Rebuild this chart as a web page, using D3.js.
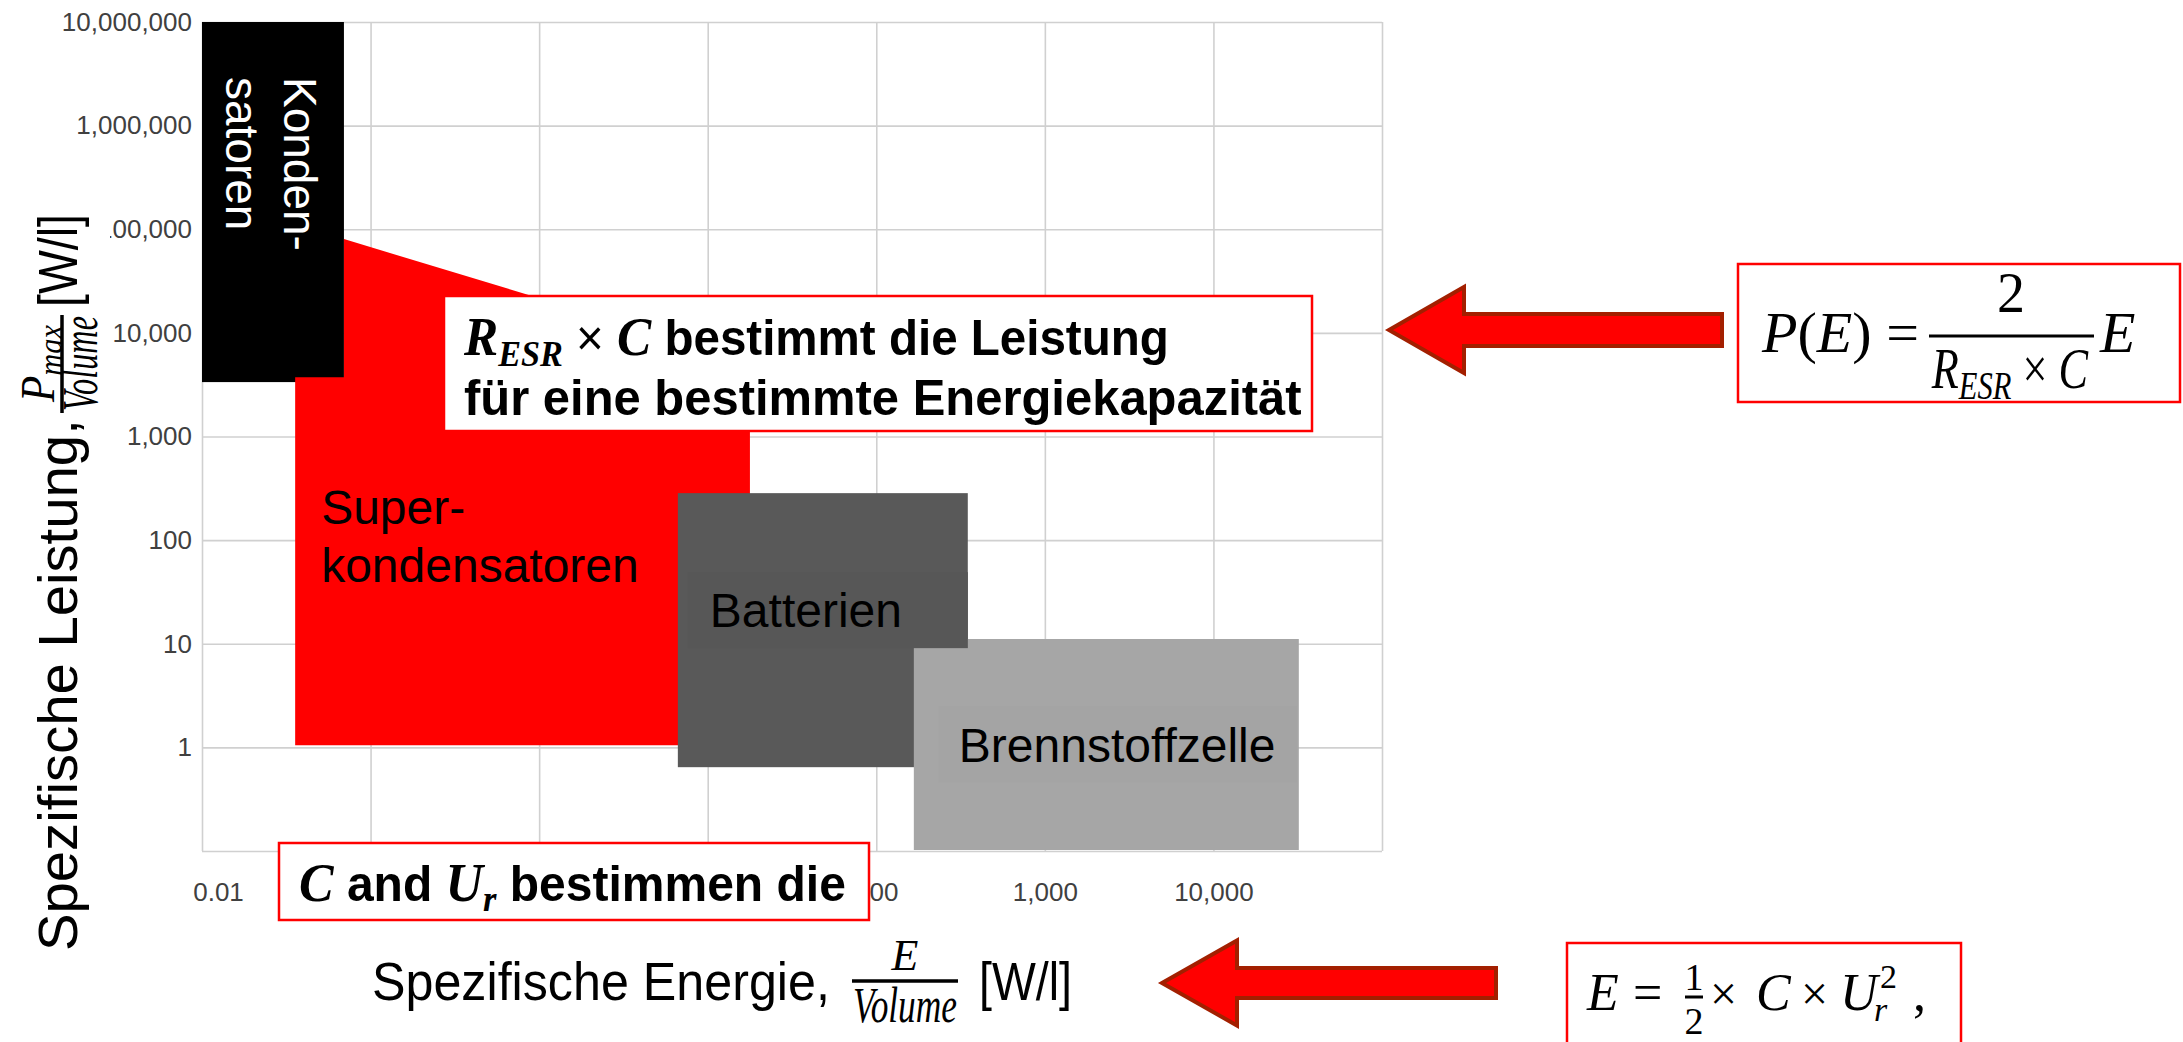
<!DOCTYPE html>
<html>
<head>
<meta charset="utf-8">
<script src="https://cdn.jsdelivr.net/npm/d3@7"></script>
<style>
  body { margin: 0; background: #fff; }
  svg { display: block; }
  text { font-family: "Liberation Sans", Arial, sans-serif; }
  .math { font-family: "Liberation Serif", "Times New Roman", serif; font-style: italic; }
  .serif { font-family: "Liberation Serif", "Times New Roman", serif; }
</style>
</head>
<body>
<div id="chart"></div>
<script>

// axis ticks (log scales)
var yGrid = [1e7, 1e6, 1e5, 1e4, 1e3, 100, 10, 1, 0.1];
var yTicks = [1e7, 1e6, 1e5, 1e4, 1e3, 100, 10, 1];
var yTickLabels = ["10,000,000", "1,000,000", "100,000", "10,000", "1,000", "100", "10", "1"];
var xGrid = [0.01, 0.1, 1, 10, 100, 1000, 10000, 100000];
var xTicks = [0.01, 0.1, 1, 10, 100, 1000, 10000];
var xTickLabels = ["0.01", "0.1", "1", "10", "100", "1,000", "10,000"];

// regions: [spezifische Energie, spezifische Leistung]
var kondensatorenX = [0.01, 0.0695];
var kondensatorenY = [3350, 1e7];
var superkondensatoren = [[0.0357, 1.05], [0.0357, 3740], [0.0695, 3740], [0.0695, 80400],
                          [17.8, 5230], [17.8, 1.05]];
var batterienX = [6.65, 349];
var batterienY = [0.644, 284];
var brennstoffzelle = [[167, 0.102], [167, 9.08], [326, 9.08], [326, 11.1],
                       [32100, 11.1], [32100, 0.102]];

var svgWidth = 2183;
var svgHeight = 1042;

var svg = d3.select("#chart")
  .append("svg")
  .attr("width", svgWidth)
  .attr("height", svgHeight);

var xScale = d3.scaleLog().domain([0.01, 1e5]).range([202, 1382]);
var yScale = d3.scaleLog().domain([0.1, 1e7]).range([851, 22]);

// scale a text (or group) horizontally so that it spans w pixels from its left edge
function fitWidth(sel, w) {
  var b = sel.node().getBBox();
  var s = w / b.width;
  sel.attr("transform", "translate(" + b.x + ",0) scale(" + s + ",1) translate(" + (-b.x) + ",0)");
}

// grid
var gridX = d3.axisBottom(xScale).tickValues(xGrid).tickSize(-(851 - 22)).tickFormat("");
var gridY = d3.axisLeft(yScale).tickValues(yGrid).tickSize(-(1382 - 202)).tickFormat("");
var gx = svg.append("g").attr("transform", "translate(0,851)").call(gridX);
var gy = svg.append("g").attr("transform", "translate(202,0)").call(gridY);
[gx, gy].forEach(function(g) {
  g.select(".domain").remove();
  g.selectAll("line").attr("stroke", "#d0d0d0").attr("stroke-width", 1.6);
});

// tick labels
var yAxis = d3.axisLeft(yScale).tickValues(yTicks).tickSize(0).tickPadding(10)
  .tickFormat(function(d, i) { return yTickLabels[i]; });
var ya = svg.append("g").attr("transform", "translate(202,0)").call(yAxis);
ya.select(".domain").remove();
ya.selectAll("text").attr("font-size", 26).attr("fill", "#404040")
  .style("font-family", "'Liberation Sans', Arial, sans-serif");

var xAxis = d3.axisBottom(xScale).tickValues(xTicks).tickSize(0).tickPadding(32)
  .tickFormat(function(d, i) { return xTickLabels[i]; });
var xa = svg.append("g").attr("transform", "translate(0,851)").call(xAxis);
xa.select(".domain").remove();
xa.selectAll("text").attr("font-size", 26).attr("fill", "#404040")
  .style("font-family", "'Liberation Sans', Arial, sans-serif")
  .attr("dx", function(d, i) { return i === 0 ? 16 : 0; });

// regions
var line = d3.line().x(function(d) { return xScale(d[0]); }).y(function(d) { return yScale(d[1]); });

svg.append("rect")
  .attr("x", xScale(kondensatorenX[0]))
  .attr("y", yScale(kondensatorenY[1]))
  .attr("width", xScale(kondensatorenX[1]) - xScale(kondensatorenX[0]))
  .attr("height", yScale(kondensatorenY[0]) - yScale(kondensatorenY[1]))
  .attr("fill", "#000");

svg.append("path")
  .attr("d", line(superkondensatoren) + "Z")
  .attr("fill", "#ff0000");

svg.append("rect")
  .attr("x", xScale(batterienX[0]))
  .attr("y", yScale(batterienY[1]))
  .attr("width", xScale(batterienX[1]) - xScale(batterienX[0]))
  .attr("height", yScale(batterienY[0]) - yScale(batterienY[1]))
  .attr("fill", "#595959");

svg.append("path")
  .attr("d", line(brennstoffzelle) + "Z")
  .attr("fill", "#a6a6a6");

// region labels (with their faint text boxes)
var bx = xScale(batterienX[0]), by = yScale(batterienY[1]);
svg.append("rect").attr("x", bx + 10).attr("y", by + 79).attr("width", 280).attr("height", 76)
  .attr("fill", "#575757");
svg.append("text").attr("x", bx + 32).attr("y", by + 134).attr("font-size", 48)
  .text("Batterien");

var fx = xScale(brennstoffzelle[0][0]), fy = yScale(brennstoffzelle[3][1]);
svg.append("rect").attr("x", fx + 25).attr("y", fy + 67).attr("width", 358).attr("height", 76)
  .attr("fill", "#a4a4a4");
svg.append("text").attr("x", fx + 45).attr("y", fy + 123).attr("font-size", 48)
  .text("Brennstoffzelle");

var sx = xScale(superkondensatoren[0][0]);
var superLabel = svg.append("text").attr("font-size", 48);
superLabel.append("tspan").attr("x", sx + 26).attr("y", 524).text("Super-");
superLabel.append("tspan").attr("x", sx + 26).attr("y", 582).text("kondensatoren");

var kx = xScale(kondensatorenX[0]), ky = yScale(kondensatorenY[1]);
var kLabel = svg.append("text").attr("font-size", 46).attr("fill", "#fff")
  .attr("transform", "translate(" + (kx + 82) + "," + (ky + 55) + ") rotate(90)");
kLabel.append("tspan").attr("x", 0).attr("y", 0).text("Konden-");
kLabel.append("tspan").attr("x", 0).attr("y", 58).text("satoren");

// annotation box: R_ESR x C
svg.append("rect").attr("x", 444).attr("y", 296).attr("width", 868).attr("height", 135)
  .attr("fill", "#fff").attr("stroke", "#ff0000").attr("stroke-width", 2.5);
var l1 = svg.append("text").attr("x", 464).attr("y", 355).attr("font-size", 50).attr("font-weight", "bold");
l1.append("tspan").attr("class", "math").attr("font-size", 54).text("R");
l1.append("tspan").attr("class", "math").attr("font-size", 36).attr("dy", 11).text("ESR");
l1.append("tspan").attr("dy", -11).attr("font-weight", "normal").text(" \u00d7 ");
l1.append("tspan").attr("class", "math").attr("font-size", 54).text("C");
l1.append("tspan").text(" bestimmt die Leistung");
fitWidth(l1, 706);
var l2 = svg.append("text").attr("x", 464).attr("y", 415).attr("font-size", 50).attr("font-weight", "bold")
  .text("f\u00fcr eine bestimmte Energiekapazit\u00e4t");
fitWidth(l2, 838);

// annotation box: C and U_r
svg.append("rect").attr("x", 279).attr("y", 843).attr("width", 590).attr("height", 77)
  .attr("fill", "#fff").attr("stroke", "#ff0000").attr("stroke-width", 2.5);
var l3 = svg.append("text").attr("x", 299).attr("y", 901).attr("font-size", 50).attr("font-weight", "bold");
l3.append("tspan").attr("class", "math").attr("font-size", 54).text("C");
l3.append("tspan").text(" and ");
l3.append("tspan").attr("class", "math").attr("font-size", 54).text("U");
l3.append("tspan").attr("class", "math").attr("font-size", 36).attr("dy", 10).text("r");
l3.append("tspan").attr("dy", -10).text(" bestimmen die");
fitWidth(l3, 547);

// y axis title (rotated); its white box hides the leading "1" of 100,000 as in the original
var yTitle = svg.append("g").attr("transform", "translate(77,951) rotate(-90)");
yTitle.append("rect").attr("x", -10).attr("y", -58).attr("width", 755).attr("height", 91).attr("fill", "#fff");
var yt1 = yTitle.append("text").attr("x", 0).attr("y", 0).attr("font-size", 56).text("Spezifische Leistung,");
fitWidth(yt1, 532);
yTitle.append("line").attr("x1", 538).attr("x2", 636).attr("y1", -15).attr("y2", -15)
  .attr("stroke", "#000").attr("stroke-width", 3.5);
var numG = yTitle.append("g");
var num = numG.append("text").attr("class", "math").attr("x", 549).attr("y", -23).attr("font-size", 48);
num.append("tspan").text("P");
num.append("tspan").attr("font-size", 34).attr("dy", 8).text("max");
fitWidth(numG, 78);
var denG = yTitle.append("g");
denG.append("text").attr("class", "math").attr("x", 540).attr("y", 20).attr("font-size", 50).text("Volume");
fitWidth(denG, 95);
var yt2 = yTitle.append("text").attr("x", 644).attr("y", 0).attr("font-size", 56).text("[W/l]");
fitWidth(yt2, 93);

// x axis title
var xt1 = svg.append("text").attr("x", 372).attr("y", 1000).attr("font-size", 53).text("Spezifische Energie,");
fitWidth(xt1, 458);
svg.append("line").attr("x1", 852).attr("x2", 958).attr("y1", 981).attr("y2", 981)
  .attr("stroke", "#000").attr("stroke-width", 3.5);
svg.append("text").attr("class", "math").attr("x", 905).attr("y", 970).attr("font-size", 44)
  .attr("text-anchor", "middle").text("E");
var xDen = svg.append("g");
xDen.append("text").attr("class", "math").attr("x", 853).attr("y", 1022).attr("font-size", 50).text("Volume");
fitWidth(xDen, 104);
var xt2 = svg.append("text").attr("x", 979).attr("y", 1000).attr("font-size", 53).text("[W/l]");
fitWidth(xt2, 93);

// arrows
function arrow(tipX, tipY, backX, headH, shaftH, endX) {
  var pts = [[tipX, tipY], [backX, tipY - headH / 2], [backX, tipY - shaftH / 2], [endX, tipY - shaftH / 2],
             [endX, tipY + shaftH / 2], [backX, tipY + shaftH / 2], [backX, tipY + headH / 2]];
  svg.append("polygon")
    .attr("points", pts.map(function(p) { return p.join(","); }).join(" "))
    .attr("fill", "#ff0000").attr("stroke", "#a31f00").attr("stroke-width", 4)
    .attr("stroke-linejoin", "miter");
}
arrow(1389, 330, 1464, 86, 32, 1722);
arrow(1162, 983, 1237, 85, 30, 1496);

// formula box P(E)
svg.append("rect").attr("x", 1738).attr("y", 264).attr("width", 442).attr("height", 138)
  .attr("fill", "#fff").attr("stroke", "#ff0000").attr("stroke-width", 2.5);
var f1 = svg.append("text").attr("x", 1762).attr("y", 352).attr("font-size", 58);
f1.append("tspan").attr("class", "math").text("P");
f1.append("tspan").attr("class", "serif").text("(");
f1.append("tspan").attr("class", "math").text("E");
f1.append("tspan").attr("class", "serif").text(") =");
fitWidth(f1, 158);
svg.append("line").attr("x1", 1929).attr("x2", 2094).attr("y1", 336).attr("y2", 336)
  .attr("stroke", "#000").attr("stroke-width", 3);
svg.append("text").attr("class", "serif").attr("x", 2011).attr("y", 312).attr("font-size", 56)
  .attr("text-anchor", "middle").text("2");
var f1d = svg.append("text").attr("x", 1932).attr("y", 388).attr("font-size", 58);
f1d.append("tspan").attr("class", "math").text("R");
f1d.append("tspan").attr("class", "math").attr("font-size", 40).attr("dy", 11).text("ESR");
f1d.append("tspan").attr("dy", -11).attr("class", "serif").text(" \u00d7 ");
f1d.append("tspan").attr("class", "math").text("C");
fitWidth(f1d, 158);
svg.append("text").attr("class", "math").attr("x", 2100).attr("y", 352).attr("font-size", 58).text("E");

// formula box E
svg.append("rect").attr("x", 1567).attr("y", 943).attr("width", 394).attr("height", 120)
  .attr("fill", "#fff").attr("stroke", "#ff0000").attr("stroke-width", 2.5);
svg.append("text").attr("class", "math").attr("x", 1587).attr("y", 1010).attr("font-size", 52).text("E");
svg.append("text").attr("class", "serif").attr("x", 1633).attr("y", 1010).attr("font-size", 52).text("=");
svg.append("text").attr("class", "serif").attr("x", 1694).attr("y", 990).attr("font-size", 38)
  .attr("text-anchor", "middle").text("1");
svg.append("line").attr("x1", 1685).attr("x2", 1703).attr("y1", 997).attr("y2", 997)
  .attr("stroke", "#000").attr("stroke-width", 3);
svg.append("text").attr("class", "serif").attr("x", 1694).attr("y", 1034).attr("font-size", 38)
  .attr("text-anchor", "middle").text("2");
svg.append("text").attr("class", "serif").attr("x", 1710).attr("y", 1010).attr("font-size", 48).text("\u00d7");
svg.append("text").attr("class", "math").attr("x", 1756).attr("y", 1010).attr("font-size", 52).text("C");
svg.append("text").attr("class", "serif").attr("x", 1801).attr("y", 1010).attr("font-size", 48).text("\u00d7");
svg.append("text").attr("class", "math").attr("x", 1840).attr("y", 1010).attr("font-size", 52).text("U");
svg.append("text").attr("class", "serif").attr("x", 1880).attr("y", 988).attr("font-size", 34).text("2");
svg.append("text").attr("class", "math").attr("x", 1874).attr("y", 1021).attr("font-size", 34).text("r");
svg.append("text").attr("class", "serif").attr("x", 1913).attr("y", 1010).attr("font-size", 52).text(",");

</script>
</body>
</html>
